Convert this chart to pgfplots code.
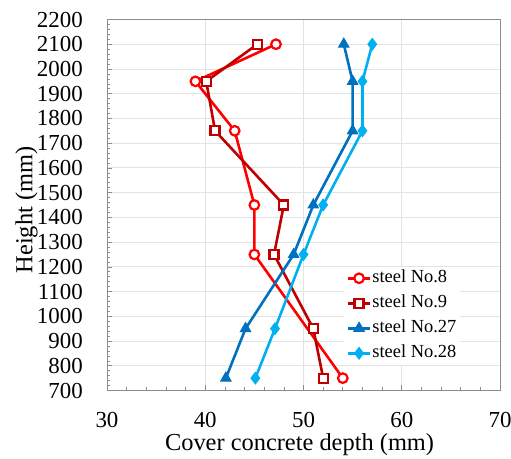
\documentclass[border=0pt]{standalone}
\usepackage{fontspec}
\setmainfont{Liberation Serif}
\usepackage{pgfplots}
\pgfplotsset{compat=1.18}
\definecolor{cRed}{HTML}{FF0000}
\definecolor{cDark}{HTML}{C00000}
\definecolor{cBlue}{HTML}{0070C0}
\definecolor{cSky}{HTML}{00B0F0}
\definecolor{cGrid}{HTML}{E3E3E3}
\definecolor{cAxis}{HTML}{8C8C8C}

\begin{document}
\begin{tikzpicture}
\begin{axis}[
    scale only axis,
    width=393bp, height=371bp,
    xmin=30, xmax=70, ymin=700, ymax=2200,
    xtick={30,40,...,70}, ytick={700,800,...,2200},
    minor x tick num=4, minor y tick num=4,
    tick align=inside, tick pos=left,
    major tick length=5bp, minor tick length=3.5bp,
    every tick/.style={cAxis, line width=0.6bp},
    axis line style={cAxis, line width=0.8bp},
    xmajorgrids, ymajorgrids,
    major grid style={cGrid, line width=0.8bp},
    /pgf/number format/assume math mode=true,
    /pgf/number format/1000 sep={},
    tick label style={font=\fontsize{23}{27}\selectfont, text=black},
    xticklabel style={inner sep=0pt, anchor=north, yshift=-22bp},
    yticklabel style={inner sep=0pt, anchor=east, xshift=-24bp},
    xlabel={Cover concrete depth (mm)},
    ylabel={Height (mm)},
    label style={font=\fontsize{24.5}{29}\selectfont},
    xlabel style={at={(axis description cs:0.49,-0.163)}, anchor=base},
    ylabel style={at={(axis description cs:-0.19,0.4865)}, anchor=base},
    legend cell align=left,
    legend style={at={(axis description cs:0.602,0.334)}, anchor=north west,
        draw=none, fill=white, font=\fontsize{18.5}{22}\selectfont,
        row sep=6bp, nodes={inner sep=1bp, text height=13bp, text depth=4bp}},
    legend image code/.code={
        \draw[mark repeat=2, mark phase=2] plot coordinates {(0bp,0bp) (11bp,0bp) (22bp,0bp)};},
]

% steel No.8
\addplot[cRed, line width=2.6bp, mark=*, mark size=4.8bp,
    mark options={fill=white, line width=2.2bp}]
    coordinates {(47.2,2100) (39.0,1950) (43.0,1750) (45.0,1450) (45.0,1250) (54.0,750)};
\addlegendentry{steel No.8}

% steel No.9
\addplot[cDark, line width=2.6bp, mark=square*, mark size=4.5bp,
    mark options={fill=white, line width=2.2bp}]
    coordinates {(45.3,2100) (40.1,1950) (41.0,1750) (48.0,1450) (47.0,1250) (51.0,950) (52.0,750)};
\addlegendentry{steel No.9}

% steel No.27
\addplot[cBlue, line width=2.6bp, mark=triangle*, mark size=6bp,
    mark options={line width=1bp}]
    coordinates {(54.1,2100) (55.0,1950) (55.0,1750) (51.0,1450) (49.0,1250) (44.1,950) (42.1,750)};
\addlegendentry{steel No.27}

% steel No.28
\addplot[cSky, line width=2.6bp, mark=diamond*, mark size=5.8bp,
    mark options={line width=1bp}]
    coordinates {(57.0,2100) (56.0,1950) (56.0,1750) (52.0,1450) (50.0,1250) (47.1,950) (45.1,750)};
\addlegendentry{steel No.28}

\end{axis}
\pgfresetboundingbox
\path (-107bp,-68.5bp) rectangle (404bp,390.5bp);
\end{tikzpicture}
\end{document}
